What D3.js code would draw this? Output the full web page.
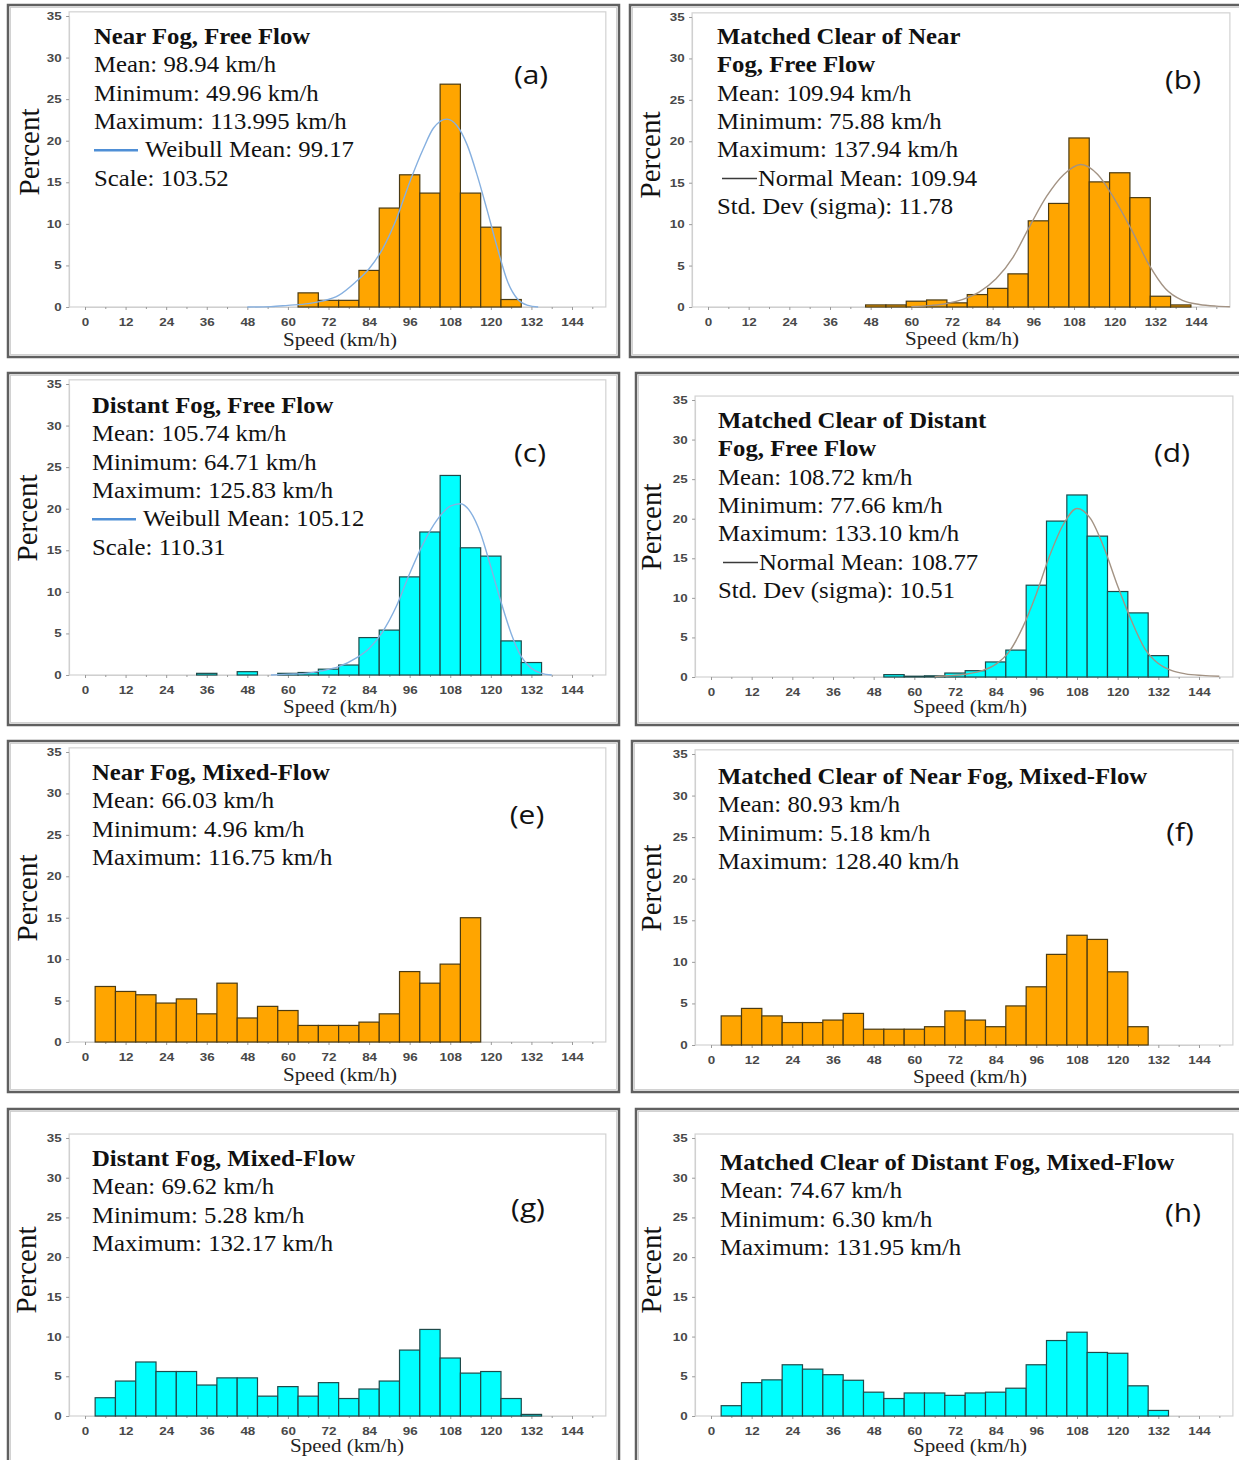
<!DOCTYPE html>
<html>
<head>
<meta charset="utf-8">
<script src="https://cdn.jsdelivr.net/npm/d3@7"></script>
<style>
  body { margin: 0; background: #fff; }
  svg { display: block; }
</style>
</head>
<body>
<svg id="fig" width="1239" height="1460"></svg>
<script>
// ---------- data ----------
const speedTicks = [0, 12, 24, 36, 48, 60, 72, 84, 96, 108, 120, 132, 144];
const speedMinor = [6, 18, 30, 42, 54, 66, 78, 90, 102, 114, 126, 138, 150];
const percentTicks = [0, 5, 10, 15, 20, 25, 30, 35];

// (a) Near Fog, Free Flow
const binsA = [66, 72, 78, 84, 90, 96, 102, 108, 114, 120, 126];
const pctA  = [1.7, 0.8, 0.8, 4.4, 11.9, 15.9, 13.7, 26.8, 13.7, 9.6, 0.9];
const fitAx = [48, 55, 60, 66, 70, 75, 80, 84, 88, 92, 96, 100, 103, 107, 110, 113, 116, 119, 122, 125, 128, 131, 134];
const fitAy = [0, 0.05, 0.2, 0.4, 0.7, 1.4, 3.0, 4.6, 7.0, 10.5, 15.0, 19.0, 21.5, 22.6, 21.8, 19.5, 15.8, 11.5, 7.0, 3.0, 0.9, 0.2, 0];
const textA = ["Near Fog, Free Flow", "Mean: 98.94 km/h", "Minimum: 49.96 km/h", "Maximum: 113.995 km/h", "Weibull Mean: 99.17", "Scale: 103.52"];

// (b) Matched Clear of Near Fog, Free Flow
const binsB = [49.5, 55.5, 61.5, 67.5, 73.5, 79.5, 85.5, 91.5, 97.5, 103.5, 109.5, 115.5, 121.5, 127.5, 133.5, 139.5];
const pctB  = [0.25, 0.25, 0.7, 0.85, 0.5, 1.5, 2.25, 4.0, 10.4, 12.5, 20.4, 15.1, 16.2, 13.2, 1.3, 0.25];
const fitBx = [60, 66, 70, 75, 80, 85, 90, 95, 100, 105, 110, 115, 120, 125, 130, 135, 140, 145, 150, 154];
const fitBy = [0.05, 0.2, 0.4, 0.9, 1.8, 3.4, 6.0, 9.8, 13.4, 16.0, 17.2, 16.0, 13.0, 9.3, 5.2, 2.2, 0.8, 0.3, 0.1, 0.03];
const textB = ["Matched Clear of Near", "Fog, Free Flow", "Mean: 109.94 km/h", "Minimum: 75.88 km/h", "Maximum: 137.94 km/h", "Normal Mean: 109.94", "Std. Dev (sigma): 11.78"];

// (c) Distant Fog, Free Flow
const binsC = [36, 48, 60, 66, 72, 78, 84, 90, 96, 102, 108, 114, 120, 126, 132];
const pctC  = [0.2, 0.4, 0.2, 0.3, 0.7, 1.2, 4.5, 5.4, 11.8, 17.2, 24.0, 15.3, 14.3, 4.1, 1.5];
const fitCx = [55, 60, 65, 70, 75, 80, 84, 88, 92, 96, 100, 104, 108, 111, 114, 117, 120, 123, 126, 129, 132, 135, 138];
const fitCy = [0, 0.1, 0.2, 0.5, 1.0, 2.0, 3.2, 5.2, 8.2, 12.2, 15.8, 18.6, 20.3, 20.6, 19.6, 17.0, 13.0, 8.8, 5.0, 2.2, 0.8, 0.2, 0];
const textC = ["Distant  Fog, Free Flow", "Mean: 105.74 km/h", "Minimum: 64.71 km/h", "Maximum: 125.83 km/h", "Weibull Mean: 105.12", "Scale: 110.31"];

// (d) Matched Clear of Distant Fog, Free Flow
const binsD = [54, 60, 66, 72, 78, 84, 90, 96, 102, 108, 114, 120, 126, 132];
const pctD  = [0.3, 0.1, 0.15, 0.5, 0.8, 1.9, 3.4, 11.6, 19.7, 23.0, 17.8, 10.8, 8.1, 2.7];
const fitDx = [66, 70, 75, 80, 84, 88, 92, 96, 100, 104, 108, 112, 116, 120, 124, 128, 132, 136, 140, 145, 150];
const fitDy = [0.05, 0.15, 0.35, 0.8, 1.6, 3.2, 6.3, 10.5, 15.4, 19.3, 21.3, 20.0, 16.3, 11.5, 7.2, 3.6, 1.7, 0.8, 0.4, 0.2, 0.1];
const textD = ["Matched Clear of Distant", "Fog, Free Flow", "Mean: 108.72 km/h", "Minimum: 77.66 km/h", "Maximum: 133.10 km/h", "Normal Mean: 108.77", "Std. Dev (sigma): 10.51"];

// (e) Near Fog, Mixed-Flow
const binsE = [6, 12, 18, 24, 30, 36, 42, 48, 54, 60, 66, 72, 78, 84, 90, 96, 102, 108, 114];
const pctE  = [6.7, 6.1, 5.7, 4.7, 5.2, 3.4, 7.1, 2.9, 4.3, 3.8, 2.0, 2.0, 2.0, 2.4, 3.4, 8.5, 7.1, 9.4, 15.0];
const textE = ["Near Fog, Mixed-Flow", "Mean: 66.03 km/h", "Minimum: 4.96 km/h", "Maximum: 116.75 km/h"];

// (f) Matched Clear of Near Fog, Mixed-Flow
const binsF = [6, 12, 18, 24, 30, 36, 42, 48, 54, 60, 66, 72, 78, 84, 90, 96, 102, 108, 114, 120, 126];
const pctF  = [3.5, 4.4, 3.5, 2.7, 2.7, 3.0, 3.8, 1.9, 1.9, 1.9, 2.2, 4.1, 3.0, 2.2, 4.7, 7.0, 10.9, 13.2, 12.7, 8.8, 2.2];
const textF = ["Matched Clear of Near Fog, Mixed-Flow", "Mean: 80.93 km/h", "Minimum: 5.18 km/h", "Maximum: 128.40 km/h"];

// (g) Distant Fog, Mixed-Flow
const binsG = [6, 12, 18, 24, 30, 36, 42, 48, 54, 60, 66, 72, 78, 84, 90, 96, 102, 108, 114, 120, 126, 132];
const pctG  = [2.3, 4.4, 6.8, 5.6, 5.6, 3.9, 4.8, 4.8, 2.5, 3.7, 2.5, 4.2, 2.2, 3.4, 4.4, 8.3, 10.9, 7.3, 5.4, 5.6, 2.2, 0.2];
const textG = ["Distant Fog, Mixed-Flow", "Mean: 69.62 km/h", "Minimum: 5.28 km/h", "Maximum: 132.17 km/h"];

// (h) Matched Clear of Distant Fog, Mixed-Flow
const binsH = [6, 12, 18, 24, 30, 36, 42, 48, 54, 60, 66, 72, 78, 84, 90, 96, 102, 108, 114, 120, 126, 132];
const pctH  = [1.3, 4.2, 4.55, 6.45, 5.9, 5.2, 4.5, 3.0, 2.2, 2.9, 2.9, 2.6, 2.9, 3.0, 3.5, 6.45, 9.5, 10.55, 8.0, 7.9, 3.8, 0.7];
const textH = ["Matched Clear of Distant Fog, Mixed-Flow", "Mean: 74.67 km/h", "Minimum: 6.30 km/h", "Maximum: 131.95 km/h"];

const ORANGE = "#ffa500", CYAN = "#00ffff";

// ---------- layout (pixel geometry of each panel) ----------
const panels = [
  { id: "(a)", bins: binsA, pct: pctA, fx: fitAx, fy: fitAy, fit: "weibull", text: textA, bold: 1, legend: 4, fill: ORANGE,
    frame: [8, 5, 619, 357], x0: 85, x144: 572, y0: 307, y35: 16, tx: 94, ty: 44, lab: [531, 75], pc: [30, 152], sp: [340, 346] },
  { id: "(b)", bins: binsB, pct: pctB, fx: fitBx, fy: fitBy, fit: "normal", text: textB, bold: 2, legend: 5, fill: ORANGE,
    frame: [630, 5, 1242, 357], x0: 708, x144: 1196, y0: 307, y35: 17, tx: 717, ty: 44, lab: [1183, 80], pc: [651, 155], sp: [962, 345] },
  { id: "(c)", bins: binsC, pct: pctC, fx: fitCx, fy: fitCy, fit: "weibull", text: textC, bold: 1, legend: 4, fill: CYAN,
    frame: [8, 373, 619, 725], x0: 85, x144: 572, y0: 675, y35: 384, tx: 92, ty: 413, lab: [530, 453], pc: [28, 518], sp: [340, 713] },
  { id: "(d)", bins: binsD, pct: pctD, fx: fitDx, fy: fitDy, fit: "normal", text: textD, bold: 2, legend: 5, fill: CYAN,
    frame: [636, 373, 1242, 725], x0: 711, x144: 1199, y0: 677, y35: 400, tx: 718, ty: 428, lab: [1172, 453], pc: [652, 527], sp: [970, 713] },
  { id: "(e)", bins: binsE, pct: pctE, text: textE, bold: 1, fill: ORANGE,
    frame: [8, 741, 619, 1092], x0: 85, x144: 572, y0: 1042, y35: 752, tx: 92, ty: 780, lab: [527, 815], pc: [28, 898], sp: [340, 1081] },
  { id: "(f)", bins: binsF, pct: pctF, text: textF, bold: 1, fill: ORANGE,
    frame: [632, 741, 1242, 1092], x0: 711, x144: 1199, y0: 1045, y35: 754, tx: 718, ty: 784, lab: [1180, 832], pc: [652, 888], sp: [970, 1083] },
  { id: "(g)", bins: binsG, pct: pctG, text: textG, bold: 1, fill: CYAN,
    frame: [8, 1109, 619, 1470], x0: 85, x144: 572, y0: 1416, y35: 1138, tx: 92, ty: 1166, lab: [528, 1208], pc: [27, 1270], sp: [347, 1452] },
  { id: "(h)", bins: binsH, pct: pctH, text: textH, bold: 1, fill: CYAN,
    frame: [636, 1109, 1242, 1470], x0: 711, x144: 1199, y0: 1416, y35: 1138, tx: 720, ty: 1170, lab: [1183, 1213], pc: [652, 1270], sp: [970, 1452] }
];

const svg = d3.select("#fig");
svg.append("rect").attr("width", 1239).attr("height", 1460).attr("fill", "#fff");

const SERIF = "'Liberation Serif', 'Times New Roman', serif";
const SANS = "'Liberation Sans', Arial, sans-serif";

// text that is a little wider than its font, as in the scanned figure
function stext(g, x, y, str, size, sx) {
  return g.append("text")
    .attr("transform", `translate(${x},${y}) scale(${sx},1)`)
    .style("font-size", size + "px")
    .text(str);
}

panels.forEach(function (p) {
  const g = svg.append("g");
  const xs = d3.scaleLinear().domain([0, 144]).range([p.x0, p.x144]);
  const ys = d3.scaleLinear().domain([0, 35]).range([p.y0, p.y35]);

  // outer frame
  const f = p.frame;
  g.append("rect").attr("x", f[0]).attr("y", f[1]).attr("width", f[2] - f[0]).attr("height", f[3] - f[1])
    .attr("fill", "none").attr("stroke", "#606060").attr("stroke-width", 2.5);
  g.append("rect").attr("x", f[0] + 2.5).attr("y", f[1] + 2.5).attr("width", f[2] - f[0] - 5).attr("height", f[3] - f[1] - 5)
    .attr("fill", "none").attr("stroke", "#c8c8c8").attr("stroke-width", 0.8);

  // light plot box
  g.append("rect").attr("x", xs(-4.7)).attr("y", ys(35.5))
    .attr("width", xs(154) - xs(-4.7)).attr("height", ys(0) - ys(35.5))
    .attr("fill", "none").attr("stroke", "#d2d2d2").attr("stroke-width", 1.2);

  // axes
  const xAxis = g.append("g").attr("transform", `translate(0,${p.y0})`)
    .call(d3.axisBottom(xs).tickValues(speedTicks).tickSize(3).tickPadding(8).tickSizeOuter(0));
  g.append("g").attr("transform", `translate(0,${p.y0})`)
    .call(d3.axisBottom(xs).tickValues(speedMinor.filter(v => xs(v) < xs(154))).tickSize(2).tickFormat("").tickSizeOuter(0))
    .select(".domain").remove();
  const yAxis = g.append("g").attr("transform", `translate(${xs(-4.7)},0)`)
    .call(d3.axisLeft(ys).tickValues(percentTicks).tickSize(3).tickPadding(3).tickSizeOuter(0));
  [xAxis, yAxis].forEach(a => {
    a.select(".domain").attr("stroke", "#cfcfcf");
    a.selectAll(".tick text").attr("fill", "#484848").style("font-family", SANS)
      .style("font-size", "11px").style("font-weight", "bold").attr("transform", "scale(1.22,1)");
  });
  g.selectAll(".tick line").attr("stroke", "#9a9a9a");

  // bars
  g.append("g").selectAll("rect").data(p.bins).join("rect")
    .attr("x", d => xs(d - 3))
    .attr("width", d => xs(d + 3) - xs(d - 3))
    .attr("y", (d, i) => ys(p.pct[i]))
    .attr("height", (d, i) => ys(0) - ys(p.pct[i]))
    .attr("fill", p.fill)
    .attr("stroke", p.fill === ORANGE ? "#4a3a12" : "#1e4a4a")
    .attr("stroke-width", 1.2);

  // fitted density curve
  if (p.fx) {
    const pts = p.fx.map((v, i) => [v, p.fy[i]]);
    g.append("path").datum(pts)
      .attr("d", d3.line().x(d => xs(d[0])).y(d => ys(d[1])).curve(d3.curveMonotoneX))
      .attr("fill", "none")
      .attr("stroke", p.fit === "weibull" ? "#86b0e0" : "#a39384")
      .attr("stroke-width", 1.4);
  }

  // annotation text block
  const tg = g.append("g").style("font-family", SERIF).attr("fill", "#111");
  p.text.forEach(function (str, i) {
    const y = p.ty + i * 28.3;
    let x = p.tx;
    if (i === p.legend) {
      const isW = p.fit === "weibull";
      const lx0 = isW ? p.tx : p.tx + 5, lx1 = isW ? p.tx + 44 : p.tx + 40;
      g.append("line").attr("x1", lx0).attr("x2", lx1).attr("y1", y - 7).attr("y2", y - 7)
        .attr("stroke", isW ? "#4f8fd6" : "#3a3a3a").attr("stroke-width", isW ? 2.6 : 1.4);
      x = lx1 + (isW ? 7 : 1);
    }
    const t = stext(tg, x, y, str, 22.5, 1.1);
    if (i < p.bold) t.style("font-weight", "bold");
  });

  // panel letter
  stext(g, p.lab[0], p.lab[1] + 9, p.id, 26, 1.15)
    .style("font-family", "'Open Sans', 'Liberation Sans', sans-serif")
    .attr("text-anchor", "middle").attr("fill", "#111");

  // axis titles
  g.append("text")
    .attr("transform", `translate(${p.pc[0] + 9},${p.pc[1]}) rotate(-90)`)
    .attr("text-anchor", "middle")
    .style("font-family", SERIF).style("font-size", "29px").attr("fill", "#111")
    .text("Percent");
  stext(g, p.sp[0], p.sp[1], "Speed (km/h)", 18, 1.17)
    .style("font-family", SERIF).attr("text-anchor", "middle").attr("fill", "#222");
});
</script>
</body>
</html>
